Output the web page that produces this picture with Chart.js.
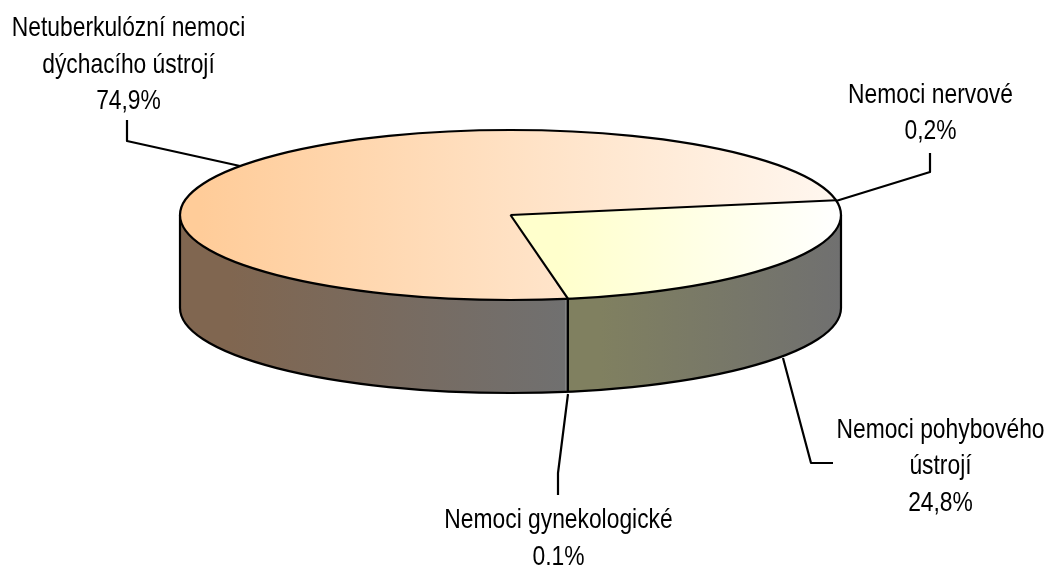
<!DOCTYPE html>
<html>
<head>
<meta charset="utf-8">
<style>html,body{margin:0;padding:0;background:#fff}canvas{display:block}</style>
<script src="https://cdn.jsdelivr.net/npm/chart.js@4/dist/chart.umd.min.js"></script>
</head>
<body>
<div style="width:1050px;height:565px"><canvas id="c" width="1050" height="565"></canvas></div>
<script>
const categories = ["Netuberkulózní nemoci dýchacího ústrojí", "Nemoci nervové", "Nemoci pohybového ústrojí", "Nemoci gynekologické"];
const values = [74.9, 0.2, 24.8, 0.1];
const labelLines = [["Netuberkulózní nemoci", "dýchacího ústrojí"], ["Nemoci nervové"], ["Nemoci pohybového", "ústrojí"], ["Nemoci gynekologické"]];

const disc = { cx: 510.5, cy: 215, rx: 330.5, ry: 85, depth: 93 };
const topStops = [["#FFCC99", "#FFF7F0"], ["#FFFFCC", "#FFFFFF"], ["#FFFFCC", "#FFFFFF"], ["#FFCC99", "#FFF7F0"]];
const topRange = [[200, 841], [560, 841], [560, 841], [200, 841]];
const sideStops = [["#806650", "#707070"], ["#707070", "#707070"], ["#808060", "#707070"], ["#707070", "#707070"]];
const sideRange = [[230, 568], [500, 841], [600, 841], [500, 568]];
const leaders = [
  [[127, 120], [127, 141], [240, 166]],
  [[930, 153], [930, 172], [836, 201]],
  [[833, 463], [811, 463], [783, 358]],
  [[558, 495], [558, 473], [568, 394]]
];
const labelPos = [
  { x: 128.5, y: 36 },
  { x: 930.5, y: 102.5 },
  { x: 940.5, y: 437.5 },
  { x: 558.5, y: 528 }
];
const lineStep = 36.7;
const fontPx = 28;
const textStretch = 0.815;
const dividerMin = 1;

function strokeStyle(ctx) {
  ctx.strokeStyle = "#000";
  ctx.lineWidth = 2.2;
  ctx.lineJoin = "round";
  ctx.lineCap = "butt";
}

const pie3d = {
  id: "pie3d",
  beforeDatasetsDraw(chart) {
    const ctx = chart.ctx, arcs = chart.getDatasetMeta(0).data;
    const { cx, cy, rx, ry, depth } = disc;
    const TAU = 2 * Math.PI;
    // walls of the front half
    arcs.forEach((el, i) => {
      for (let k = -1; k <= 1; k++) {
        const a = Math.max(el.startAngle + k * TAU, 0);
        const b = Math.min(el.endAngle + k * TAU, Math.PI);
        if (b <= a) continue;
        const g = ctx.createLinearGradient(sideRange[i][0], 0, sideRange[i][1], 0);
        g.addColorStop(0, sideStops[i][0]);
        g.addColorStop(1, sideStops[i][1]);
        ctx.beginPath();
        ctx.ellipse(cx, cy, rx, ry, 0, a, b, false);
        ctx.lineTo(cx + rx * Math.cos(b), cy + depth + ry * Math.sin(b));
        ctx.ellipse(cx, cy + depth, rx, ry, 0, b, a, true);
        ctx.closePath();
        ctx.fillStyle = g;
        ctx.fill();
      }
    });
    // wall outline
    strokeStyle(ctx);
    ctx.beginPath();
    ctx.moveTo(cx + rx, cy);
    ctx.lineTo(cx + rx, cy + depth);
    ctx.ellipse(cx, cy + depth, rx, ry, 0, 0, Math.PI, false);
    ctx.lineTo(cx - rx, cy);
    ctx.stroke();
    arcs.forEach((el, i) => {
      if (values[i] < dividerMin) return;
      const e = el.endAngle % TAU;
      if (e > 0 && e < Math.PI) {
        const x = cx + rx * Math.cos(e), y = cy + ry * Math.sin(e);
        ctx.beginPath();
        ctx.moveTo(x, y);
        ctx.lineTo(x, y + depth);
        ctx.stroke();
      }
    });
    const el0 = arcs[0], R = el0.outerRadius;
    ctx.save();
    ctx.translate(cx, cy);
    ctx.scale(rx / R, ry / R);
    ctx.translate(-el0.x, -el0.y);
  },
  afterDatasetsDraw(chart) {
    const ctx = chart.ctx, arcs = chart.getDatasetMeta(0).data;
    ctx.restore();
    const { cx, cy, rx, ry } = disc;
    strokeStyle(ctx);
    ctx.beginPath();
    ctx.ellipse(cx, cy, rx, ry, 0, 0, 2 * Math.PI);
    ctx.stroke();
    arcs.forEach((el, i) => {
      if (values[i] < dividerMin) return;
      ctx.beginPath();
      ctx.moveTo(cx, cy);
      ctx.lineTo(cx + rx * Math.cos(el.endAngle), cy + ry * Math.sin(el.endAngle));
      ctx.stroke();
    });
    // leaders
    leaders.forEach(pts => {
      ctx.beginPath();
      pts.forEach((p, j) => j ? ctx.lineTo(p[0], p[1]) : ctx.moveTo(p[0], p[1]));
      ctx.stroke();
    });
    // labels
    ctx.fillStyle = "#000";
    ctx.font = fontPx + 'px "Liberation Sans", Arial, sans-serif';
    ctx.textAlign = "center";
    ctx.textBaseline = "alphabetic";
    labelLines.forEach((lines, i) => {
      const all = lines.concat([values[i].toFixed(1).replace(".", ",") + "%"]);
      all.forEach((s, j) => {
        ctx.save();
        ctx.translate(labelPos[i].x, labelPos[i].y + j * lineStep);
        ctx.scale(textStretch, 1);
        ctx.fillText(s, 0, 0);
        ctx.restore();
      });
    });
  }
};

new Chart(document.getElementById("c"), {
  type: "pie",
  data: {
    labels: categories,
    datasets: [{
      data: values,
      rotation: 170.36,
      borderWidth: 0,
      backgroundColor(c) {
        const area = c.chart.chartArea;
        if (!area || c.dataIndex === undefined) return "#FFCC99";
        const i = c.dataIndex;
        const R = Math.min(area.right - area.left, area.bottom - area.top) / 2;
        const x0 = (area.left + area.right) / 2;
        const toChart = X => x0 + (X - disc.cx) * R / disc.rx;
        const g = c.chart.ctx.createLinearGradient(toChart(topRange[i][0]), 0, toChart(topRange[i][1]), 0);
        g.addColorStop(0, topStops[i][0]);
        g.addColorStop(1, topStops[i][1]);
        return g;
      }
    }]
  },
  options: {
    responsive: false,
    animation: false,
    layout: { padding: 0 },
    plugins: { legend: { display: false }, tooltip: { enabled: false }, title: { display: false } }
  },
  plugins: [pie3d]
});
</script>
</body>
</html>
